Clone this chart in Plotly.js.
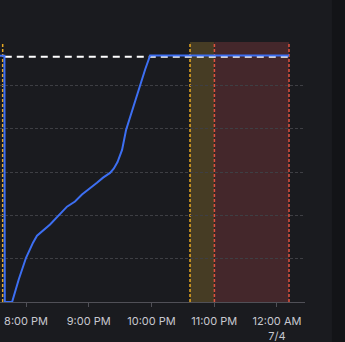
<!DOCTYPE html>
<html>
<head>
<meta charset="utf-8">
<script src="https://cdn.plot.ly/plotly-3.0.1.min.js"></script>
<style>
html,body{margin:0;padding:0;background:#1a1b1f;}
#chart{width:345px;height:342px;}
</style>
</head>
<body>
<div id="chart"></div>
<script>
// Series: measured value over time
const seriesTimes = [
  '2023-07-03 19:20:00','2023-07-03 19:39:20','2023-07-03 19:39:40','2023-07-03 19:46:40',
  '2023-07-03 19:53:00','2023-07-03 20:00:00','2023-07-03 20:06:40','2023-07-03 20:10:30','2023-07-03 20:23:00',
  '2023-07-03 20:39:10','2023-07-03 20:46:50','2023-07-03 20:53:30','2023-07-03 21:07:50',
  '2023-07-03 21:13:40','2023-07-03 21:20:20','2023-07-03 21:24:00','2023-07-03 21:27:30','2023-07-03 21:31:50',
  '2023-07-03 21:35:40','2023-07-03 21:42:20','2023-07-03 21:49:00','2023-07-03 21:53:50',
  '2023-07-03 21:58:40','2023-07-04 00:11:30'
];
const seriesValues = [
  5.68, 5.68, 0, 0,
  0.52, 1.02, 1.37, 1.53, 1.79,
  2.20, 2.32, 2.48, 2.75,
  2.87, 2.98, 3.08, 3.23, 3.51,
  3.97, 4.50, 5.01, 5.36,
  5.69, 5.69
];
// Threshold (dashed white)
const thresholdTimes = ['2023-07-03 19:39:40','2023-07-04 00:11:30'];
const thresholdValues = [5.66, 5.66];
// Annotated regions / markers
const regionStarts = ['2023-07-03 22:36:50','2023-07-03 23:00:10'];
const regionEnds   = ['2023-07-03 23:00:10','2023-07-04 00:11:30'];
const markerTimes  = ['2023-07-03 19:37:40','2023-07-03 22:36:50','2023-07-03 23:00:10','2023-07-04 00:11:30'];
const markerKinds  = ['warn','warn','crit','crit'];
// Axis ticks
const tickVals  = ['2023-07-03 20:00','2023-07-03 21:00','2023-07-03 22:00','2023-07-03 23:00','2023-07-04 00:00'];
const tickTexts = ['8:00 PM','9:00 PM','10:00 PM','11:00 PM','12:00 AM<br>7/4'];
const xRange = ['2023-07-03 19:35:06','2023-07-04 00:26:48'];

const regionFill = ['#463c24','#44272b'];
const markerColor = {warn:'#e8a922', crit:'#e0533f'};

const shapes = [];
// darker strip at right edge
shapes.push({type:'rect', xref:'paper', yref:'paper', x0:1.0885, x1:1.2, y0:-0.2, y1:1.2,
  fillcolor:'#131417', line:{width:0}, layer:'below'});
regionStarts.forEach((s,i)=>{
  shapes.push({type:'rect', xref:'x', yref:'paper', x0:s, x1:regionEnds[i], y0:0, y1:1,
    fillcolor:regionFill[i], line:{width:0}, layer:'below'});
});
markerTimes.forEach((t,i)=>{
  shapes.push({type:'line', xref:'x', yref:'paper', x0:t, x1:t, y0:0, y1:1,
    line:{color:markerColor[markerKinds[i]], width:1.5, dash:'3px,2px'}, layer:'below'});
});

const data = [
  {x:thresholdTimes, y:thresholdValues, type:'scatter', mode:'lines',
   line:{color:'#ffffff', width:2, dash:'7px,5px'}, hoverinfo:'skip'},
  {x:seriesTimes, y:seriesValues, type:'scatter', mode:'lines',
   line:{color:'#3d6ff2', width:2}, hoverinfo:'skip'}
];

const layout = {
  width:345, height:342,
  margin:{l:0, r:40, t:42, b:40},
  paper_bgcolor:'#1a1b1f', plot_bgcolor:'#1a1b1f',
  showlegend:false,
  font:{family:'Inter, sans-serif', color:'#c7c8cf', size:11},
  xaxis:{type:'date', range:xRange, tickmode:'array', tickvals:tickVals, ticktext:tickTexts,
    showgrid:false, zeroline:false, showline:true, linecolor:'#505057', linewidth:1,
    ticks:'outside', ticklen:4, tickcolor:'#505057', ticklabelstandoff:5,
    tickfont:{size:11, color:'#c7c8cf'}},
  yaxis:{range:[0,6], dtick:1, showticklabels:false, zeroline:false, showline:false,
    showgrid:true, gridcolor:'#3e3f44', griddash:'3px,2px', gridwidth:1, ticks:''},
  shapes:shapes
};
Plotly.newPlot('chart', data, layout, {displayModeBar:false, staticPlot:true});
</script>
</body>
</html>
